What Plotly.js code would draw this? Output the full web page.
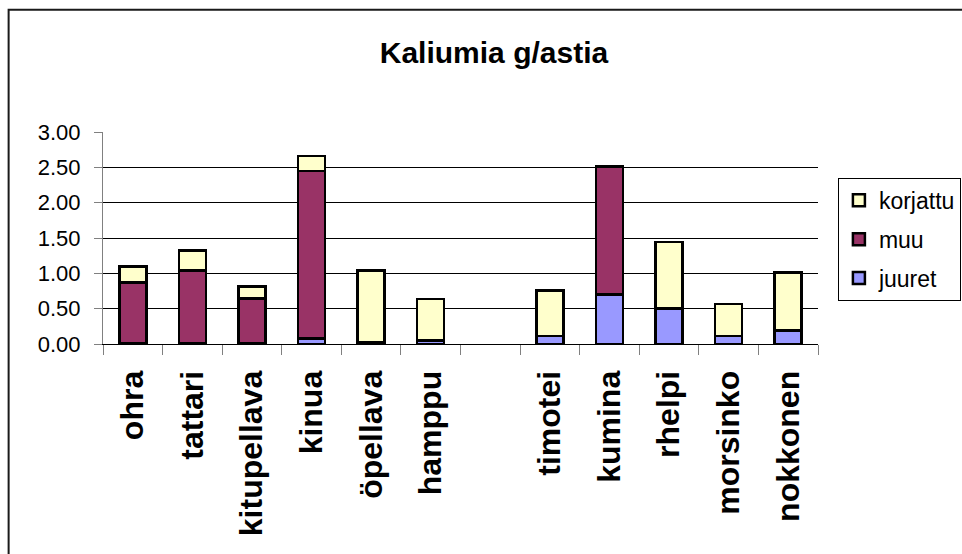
<!DOCTYPE html>
<html>
<head>
<meta charset="utf-8">
<script src="https://cdn.plot.ly/plotly-3.0.1.min.js"></script>
<style>body{margin:0;background:#fff}#chart{width:962px;height:554px}</style>
</head>
<body>
<div id="chart"></div>
<script>
const categories = ["ohra","tattari","kitupellava","kinua","öpellava","hamppu"," ","timotei","kumina","rhelpi","morsinko","nokkonen"];
const juuret   = [0.01, 0.01, 0.01, 0.075, 0.01, 0.05, null, 0.11, 0.70, 0.50, 0.11, 0.19];
const muu      = [0.86, 1.03, 0.635, 2.375, 0.01, 0.00, null, 0.00, 1.81, 0.00, 0.00, 0.00];
const korjattu = [0.23, 0.28, 0.17, 0.21, 1.02, 0.59, null, 0.65, 0.00, 0.94, 0.455, 0.82];
const yTicks = [0, 0.5, 1, 1.5, 2, 2.5, 3];

const line = {color: '#000000', width: 2.5};
const traces = [
  {name: 'juuret', x: categories, y: juuret, type: 'bar', marker: {color: '#9999FF', line: line}, legendgroup: 'juuret', legendrank: 3},
  {name: 'muu', x: categories, y: muu, type: 'bar', marker: {color: '#993366', line: line}, legendgroup: 'muu', legendrank: 2},
  {name: 'korjattu', x: categories, y: korjattu, type: 'bar', marker: {color: '#FFFFCC', line: line}, legendgroup: 'korjattu', legendrank: 1}
];

const layout = {
  width: 962, height: 554,
  margin: {l: 103, r: 144, t: 132, b: 210, pad: 0, autoexpand: false},
  paper_bgcolor: '#ffffff', plot_bgcolor: '#ffffff',
  barmode: 'stack', bargap: 0.546,
  font: {family: 'Liberation Sans, Arial, sans-serif', color: '#000'},
  title: {text: '<b>Kaliumia g/astia</b>', font: {size: 30, color: '#000'}, x: 0.5135, xanchor: 'center', y: 0.906, yanchor: 'middle', xref: 'container', yref: 'container'},
  xaxis: {
    type: 'category', categoryorder: 'array', categoryarray: categories,
    tickson: 'boundaries', ticks: 'outside', ticklen: 10, tickcolor: '#808080', tickwidth: 1,
    showline: true, linecolor: '#000', linewidth: 1,
    showgrid: false, tickangle: -90,
    tickfont: {size: 32, family: 'Liberation Sans, Arial, sans-serif', color: '#000', weight: 'bold'},
    ticklabelstandoff: 13
  },
  yaxis: {
    range: [0, 3], tickvals: yTicks, tickformat: '.2f',
    ticks: 'outside', ticklen: 8, tickcolor: '#808080', tickwidth: 1,
    showline: true, linecolor: '#808080', linewidth: 1,
    showgrid: true, gridcolor: '#000', gridwidth: 1, zeroline: false,
    tickfont: {size: 22, color: '#000'}, ticklabelstandoff: 9
  },
  legend: {
    xref: 'container', yref: 'container',
    x: 0.871, xanchor: 'left', y: 0.679, yanchor: 'top',
    traceorder: 'grouped', tracegroupgap: 6,
    bordercolor: '#000', borderwidth: 1, bgcolor: '#fff',
    font: {size: 23, color: '#000'}
  },
  shapes: [{
    type: 'rect', xref: 'paper', yref: 'paper',
    x0: -0.132, x1: 1.4, y0: -1.3, y1: 1.577,
    line: {color: '#1a1a1a', width: 2}, fillcolor: 'rgba(0,0,0,0)', layer: 'below'
  }]
};

Plotly.newPlot('chart', traces, layout, {displayModeBar: false, staticPlot: true});
</script>
</body>
</html>
